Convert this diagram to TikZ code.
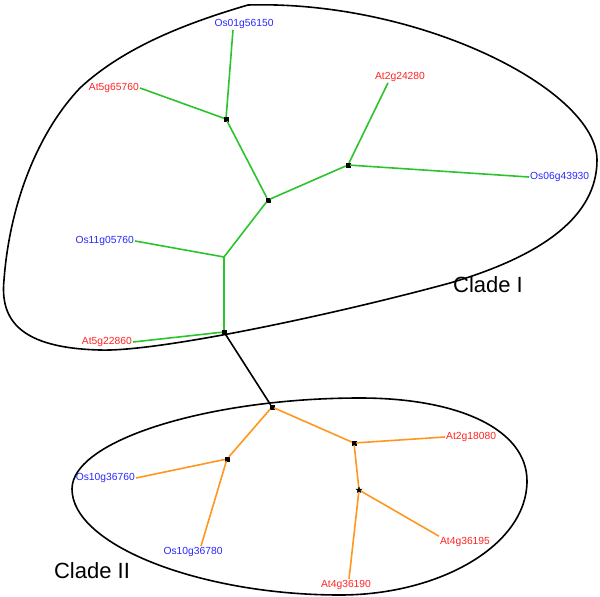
\documentclass[tikz,border=0pt]{standalone}
\usepackage{fontspec}
\setmainfont{Liberation Sans}
\usepackage{tikz}
\usetikzlibrary{shapes,positioning,calc}

\definecolor{atred}{RGB}{255,35,35}
\definecolor{osblue}{RGB}{40,40,255}
\definecolor{cladeone}{RGB}{45,195,45}
\definecolor{cladetwo}{RGB}{255,150,30}

\begin{document}
\begin{tikzpicture}[
    x=1pt, y=-1pt,
    gene/.style={inner sep=1pt, font=\fontsize{10.3}{12}\selectfont},
    atgene/.style={gene, text=atred},
    osgene/.style={gene, text=osblue},
    junction/.style={draw=black, fill=black, rectangle, inner sep=0pt, minimum size=4pt},
    branch/.style={inner sep=0pt, minimum size=0pt},
    starjunction/.style={star, star points=5, star point ratio=2.5, draw=black, fill=black, inner sep=0pt, minimum size=6pt},
    edgeone/.style={draw=cladeone, line width=1.6pt},
    edgetwo/.style={draw=cladetwo, line width=1.6pt},
    outline/.style={draw=black, line width=1.6pt},
    cladename/.style={font=\fontsize{22}{26}\selectfont}
]
    \useasboundingbox (0,0) rectangle (600,597);

    % Clade outlines
    \path[outline] (248,5) .. controls (420,0) and (597,90) .. (597,160)
        .. controls (597,215) and (545,255) .. (450,283)
        .. controls (340,313) and (160,352) .. (100,350)
        .. controls (20,348) and (0,320) .. (4,280)
        .. controls (10,200) and (40,130) .. (80,88)
        .. controls (125,46) and (190,22) .. cycle;
    \path[outline] (72,489) .. controls (72,440) and (210,398) .. (360,398)
        .. controls (460,398) and (527,430) .. (527,481)
        .. controls (527,545) and (440,595) .. (340,595)
        .. controls (200,595) and (72,545) .. cycle;

    % Nodes
    \node[junction] (a) at (226,119) {};
    \node[junction] (b) at (268,200) {};
    \node[junction] (c) at (348,165) {};
    \node[branch] (d) at (224,257) {};
    \node[junction] (e) at (224,332) {};
    \node[junction] (root) at (272,407) {};
    \node[junction] (g) at (227,459) {};
    \node[junction] (h) at (354,443) {};

    \node[osgene] (os01) at (244,24) {Os01g56150};
    \node[atgene, anchor=east] (at565) at (140,88) {At5g65760};
    \node[atgene] (at224) at (400,77) {At2g24280};
    \node[osgene, anchor=west] (os06) at (529,177) {Os06g43930};
    \node[osgene, anchor=east] (os11) at (135,241) {Os11g05760};
    \node[atgene, anchor=east] (at522) at (133,342) {At5g22860};

    \node[osgene, anchor=east] (os1076) at (136,478) {Os10g36760};
    \node[osgene] (os1078) at (193,552) {Os10g36780};
    \node[atgene, anchor=west] (at218) at (445,437) {At2g18080};
    \node[atgene] (at4195) at (465,542) {At4g36195};
    \node[atgene] (at4190) at (346,585) {At4g36190};

    \node[cladename] (cladeI) at (488,285) {Clade I};
    \node[cladename] (cladeII) at (92,571) {Clade II};

    % Connections
    \path[edgeone] (a) -- ([xshift=-11pt]os01.south);
    \path[edgeone] (a) -- (at565.east);
    \path[edgeone] (a) -- (b);
    \path[edgeone] (b) -- (c);
    \path[edgeone] (c) -- ([xshift=-12pt]at224.south);
    \path[edgeone] (c) -- (os06.west);
    \path[edgeone] (b) -- (d.center);
    \path[edgeone] (d.center) -- (os11.east);
    \path[edgeone] (d.center) -- (e);
    \path[edgeone] (e) -- (at522.east);

    \path[outline] (e) -- (root);

    \path[edgetwo] (root) -- (g);
    \path[edgetwo] (g) -- (os1076.east);
    \path[edgetwo] (g) -- ([xshift=8pt]os1078.north);
    \path[edgetwo] (root) -- (h);
    \path[edgetwo] (h) -- (at218.west);
    \node[branch] (i) at (359,490) {};
    \path[edgetwo] (h) -- (i.center);
    \path[edgetwo] (i.center) -- (at4195.north west);
    \path[edgetwo] (i.center) -- ([xshift=3pt]at4190.north);
    \node[starjunction] (istar) at (i) {};

\end{tikzpicture}
\end{document}
